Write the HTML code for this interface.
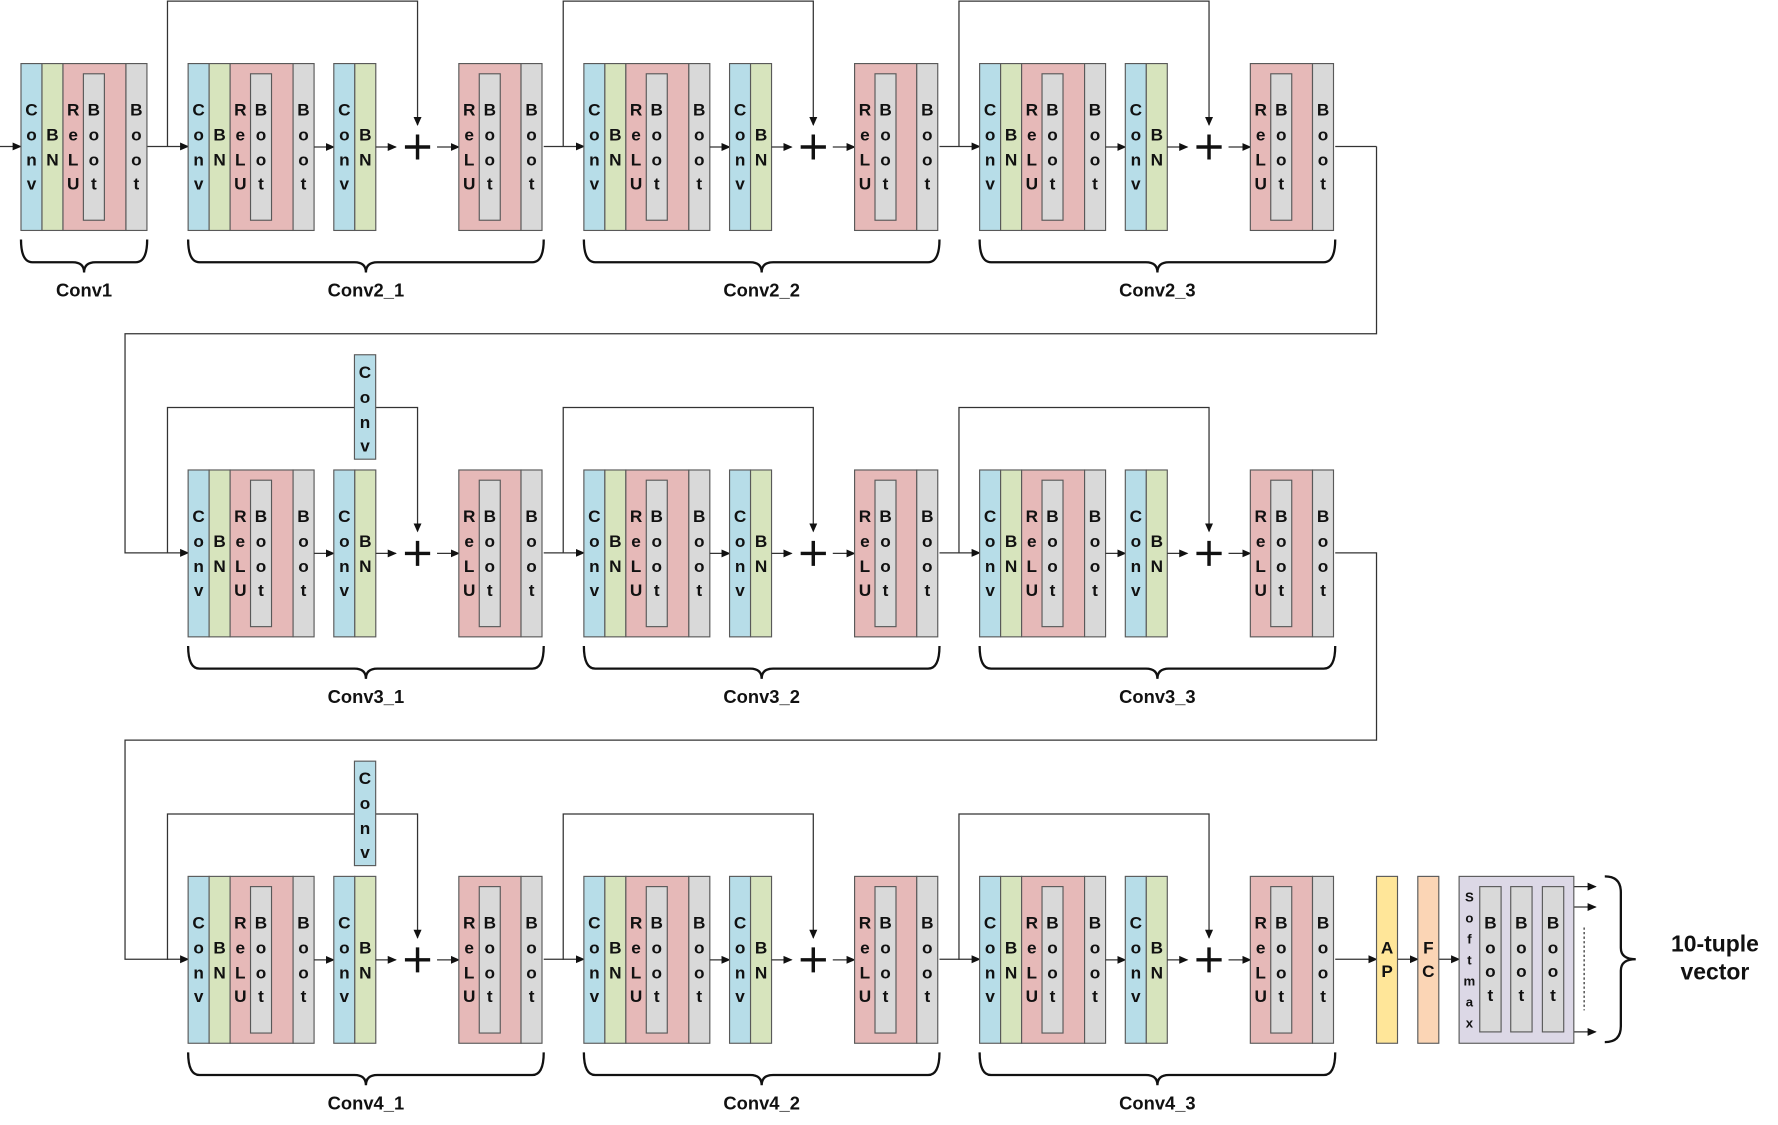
<!DOCTYPE html>
<html><head><meta charset="utf-8"><style>
html,body{margin:0;padding:0;background:#fff;}
svg{display:block;}
text{font-family:"Liberation Sans",sans-serif;font-weight:bold;fill:#111;}
.L{font-size:15px;text-anchor:middle;dominant-baseline:central;}
.T{font-size:16px;text-anchor:middle;dominant-baseline:central;}
.s{font-size:11.5px;text-anchor:middle;dominant-baseline:central;}
.b{stroke:#595959;stroke-width:1;}
.ln{stroke:#333;stroke-width:1.1;fill:none;}
.br{stroke:#111;stroke-width:2;fill:none;}
</style></head><body>
<svg width="1778" height="1125" viewBox="0 0 1550 991" preserveAspectRatio="none" xmlns="http://www.w3.org/2000/svg">
<defs>
<marker id="a" markerWidth="8" markerHeight="8" refX="7" refY="4" orient="auto" markerUnits="userSpaceOnUse"><path d="M0,0.5 L8,4 L0,7.5 Z" fill="#111"/></marker>
</defs>

<!-- ===== connectors ===== -->
<g class="ln">
<!-- row1 -->
<line x1="0" y1="129" x2="18" y2="129" marker-end="url(#a)"/>
<line x1="128" y1="129" x2="164" y2="129" marker-end="url(#a)"/>
<line x1="1164" y1="129" x2="1200" y2="129"/>
<polyline points="1200,129 1200,294 109,294 109,487 164,487" marker-end="url(#a)"/>
<polyline points="1164,487 1200,487 1200,652 109,652 109,845 164,845" marker-end="url(#a)"/>
<line x1="1164" y1="845" x2="1200" y2="845" marker-end="url(#a)"/>
<line x1="1218" y1="845" x2="1236" y2="845" marker-end="url(#a)"/>
<line x1="1254" y1="845" x2="1272" y2="845" marker-end="url(#a)"/>
<line x1="1372" y1="781" x2="1391" y2="781" marker-end="url(#a)"/>
<line x1="1372" y1="799" x2="1391" y2="799" marker-end="url(#a)"/>
<line x1="1372" y1="909" x2="1391" y2="909" marker-end="url(#a)"/>
<line x1="1381" y1="817" x2="1381" y2="890" stroke-dasharray="2,2"/>
<!-- between columns -->
<line x1="474" y1="129" x2="509" y2="129" marker-end="url(#a)"/>
<line x1="819" y1="129" x2="854" y2="129" marker-end="url(#a)"/>
<line x1="474" y1="487" x2="509" y2="487" marker-end="url(#a)"/>
<line x1="819" y1="487" x2="854" y2="487" marker-end="url(#a)"/>
<line x1="474" y1="845" x2="509" y2="845" marker-end="url(#a)"/>
<line x1="819" y1="845" x2="854" y2="845" marker-end="url(#a)"/>
</g>

<!-- final brace & text -->
<path class="br" d="M1399,772 Q1413,772 1413,786 L1413,835 Q1413,845 1426,845 Q1413,845 1413,855 L1413,904 Q1413,918 1399,918"/>
<text x="1495" y="831" style="font-size:20px;text-anchor:middle;dominant-baseline:central">10-tuple</text>
<text x="1495" y="856" style="font-size:20px;text-anchor:middle;dominant-baseline:central">vector</text>

<!-- Conv1 -->
<g transform="translate(18.3,56)">
<rect class="b" x="0" y="0" width="18.3" height="147" fill="#b7dde8"/>
<rect class="b" x="18.3" y="0" width="18.3" height="147" fill="#d7e4bd"/>
<rect class="b" x="36.6" y="0" width="54.9" height="147" fill="#e6b9b8"/>
<rect class="b" x="54.4" y="9" width="18.3" height="129" fill="#d9d9d9"/>
<rect class="b" x="91.5" y="0" width="18.3" height="147" fill="#d9d9d9"/>
<text class="L" x="9.15 9.15 9.15 9.15" y="41 63 85 106">Conv</text>
<text class="L" x="27.45 27.45" y="63 85">BN</text>
<text class="L" x="45.5 45.5 45.5 45.5" y="41 63 85 106">ReLU</text>
<text class="L" x="63.5 63.5 63.5 63.5" y="41 63 85 106">Boot</text>
<text class="L" x="100.6 100.6 100.6 100.6" y="41 63 85 106">Boot</text>
<path class="br" d="M0,155 Q0,175 10,175 L45,175 Q55,175 55,184 Q55,175 65,175 L100,175 Q110,175 110,155"/>
<text class="T" x="55" y="199.5">Conv1</text>
</g>

<!-- Residual blocks -->
<g id="blocks">
<!-- template repeated -->
<g transform="translate(164,56)">
<polyline class="ln" points="-18,73.5 -18,-55 200,-55 200,54" marker-end="url(#a)"/>
<rect class="b" x="0" y="0" width="18.3" height="147" fill="#b7dde8"/><rect class="b" x="18.3" y="0" width="18.3" height="147" fill="#d7e4bd"/><rect class="b" x="36.6" y="0" width="54.9" height="147" fill="#e6b9b8"/><rect class="b" x="54.4" y="9" width="18.3" height="129" fill="#d9d9d9"/><rect class="b" x="91.5" y="0" width="18.3" height="147" fill="#d9d9d9"/>
<line class="ln" x1="109.8" y1="73.5" x2="127" y2="73.5" marker-end="url(#a)"/>
<rect class="b" x="127" y="0" width="18.3" height="147" fill="#b7dde8"/><rect class="b" x="145.3" y="0" width="18.3" height="147" fill="#d7e4bd"/>
<line class="ln" x1="163.6" y1="73.5" x2="181" y2="73.5" marker-end="url(#a)"/>
<path d="M189,73.5 H211 M200,62.5 V84.5" stroke="#111" stroke-width="3"/>
<line class="ln" x1="217" y1="73.5" x2="236" y2="73.5" marker-end="url(#a)"/>
<rect class="b" x="236" y="0" width="54.2" height="147" fill="#e6b9b8"/><rect class="b" x="253.8" y="9" width="18.3" height="129" fill="#d9d9d9"/><rect class="b" x="290.2" y="0" width="18.3" height="147" fill="#d9d9d9"/>
<text class="L" x="9.15 9.15 9.15 9.15" y="41 63 85 106">Conv</text><text class="L" x="27.45 27.45" y="63 85">BN</text><text class="L" x="45.5 45.5 45.5 45.5" y="41 63 85 106">ReLU</text><text class="L" x="63.5 63.5 63.5 63.5" y="41 63 85 106">Boot</text><text class="L" x="100.6 100.6 100.6 100.6" y="41 63 85 106">Boot</text>
<text class="L" x="136.2 136.2 136.2 136.2" y="41 63 85 106">Conv</text><text class="L" x="154.5 154.5" y="63 85">BN</text>
<text class="L" x="245 245 245 245" y="41 63 85 106">ReLU</text><text class="L" x="263 263 263 263" y="41 63 85 106">Boot</text><text class="L" x="299.4 299.4 299.4 299.4" y="41 63 85 106">Boot</text>
<path class="br" d="M0,155 Q0,175 10,175 L145,175 Q155,175 155,184 Q155,175 165,175 L300,175 Q310,175 310,155"/>
<text class="T" x="155" y="199.5">Conv2_1</text>
</g>

<g transform="translate(509,56)">
<polyline class="ln" points="-18,73.5 -18,-55 200,-55 200,54" marker-end="url(#a)"/>
<rect class="b" x="0" y="0" width="18.3" height="147" fill="#b7dde8"/><rect class="b" x="18.3" y="0" width="18.3" height="147" fill="#d7e4bd"/><rect class="b" x="36.6" y="0" width="54.9" height="147" fill="#e6b9b8"/><rect class="b" x="54.4" y="9" width="18.3" height="129" fill="#d9d9d9"/><rect class="b" x="91.5" y="0" width="18.3" height="147" fill="#d9d9d9"/>
<line class="ln" x1="109.8" y1="73.5" x2="127" y2="73.5" marker-end="url(#a)"/>
<rect class="b" x="127" y="0" width="18.3" height="147" fill="#b7dde8"/><rect class="b" x="145.3" y="0" width="18.3" height="147" fill="#d7e4bd"/>
<line class="ln" x1="163.6" y1="73.5" x2="181" y2="73.5" marker-end="url(#a)"/>
<path d="M189,73.5 H211 M200,62.5 V84.5" stroke="#111" stroke-width="3"/>
<line class="ln" x1="217" y1="73.5" x2="236" y2="73.5" marker-end="url(#a)"/>
<rect class="b" x="236" y="0" width="54.2" height="147" fill="#e6b9b8"/><rect class="b" x="253.8" y="9" width="18.3" height="129" fill="#d9d9d9"/><rect class="b" x="290.2" y="0" width="18.3" height="147" fill="#d9d9d9"/>
<text class="L" x="9.15 9.15 9.15 9.15" y="41 63 85 106">Conv</text><text class="L" x="27.45 27.45" y="63 85">BN</text><text class="L" x="45.5 45.5 45.5 45.5" y="41 63 85 106">ReLU</text><text class="L" x="63.5 63.5 63.5 63.5" y="41 63 85 106">Boot</text><text class="L" x="100.6 100.6 100.6 100.6" y="41 63 85 106">Boot</text>
<text class="L" x="136.2 136.2 136.2 136.2" y="41 63 85 106">Conv</text><text class="L" x="154.5 154.5" y="63 85">BN</text>
<text class="L" x="245 245 245 245" y="41 63 85 106">ReLU</text><text class="L" x="263 263 263 263" y="41 63 85 106">Boot</text><text class="L" x="299.4 299.4 299.4 299.4" y="41 63 85 106">Boot</text>
<path class="br" d="M0,155 Q0,175 10,175 L145,175 Q155,175 155,184 Q155,175 165,175 L300,175 Q310,175 310,155"/>
<text class="T" x="155" y="199.5">Conv2_2</text>
</g>

<g transform="translate(854,56)">
<polyline class="ln" points="-18,73.5 -18,-55 200,-55 200,54" marker-end="url(#a)"/>
<rect class="b" x="0" y="0" width="18.3" height="147" fill="#b7dde8"/><rect class="b" x="18.3" y="0" width="18.3" height="147" fill="#d7e4bd"/><rect class="b" x="36.6" y="0" width="54.9" height="147" fill="#e6b9b8"/><rect class="b" x="54.4" y="9" width="18.3" height="129" fill="#d9d9d9"/><rect class="b" x="91.5" y="0" width="18.3" height="147" fill="#d9d9d9"/>
<line class="ln" x1="109.8" y1="73.5" x2="127" y2="73.5" marker-end="url(#a)"/>
<rect class="b" x="127" y="0" width="18.3" height="147" fill="#b7dde8"/><rect class="b" x="145.3" y="0" width="18.3" height="147" fill="#d7e4bd"/>
<line class="ln" x1="163.6" y1="73.5" x2="181" y2="73.5" marker-end="url(#a)"/>
<path d="M189,73.5 H211 M200,62.5 V84.5" stroke="#111" stroke-width="3"/>
<line class="ln" x1="217" y1="73.5" x2="236" y2="73.5" marker-end="url(#a)"/>
<rect class="b" x="236" y="0" width="54.2" height="147" fill="#e6b9b8"/><rect class="b" x="253.8" y="9" width="18.3" height="129" fill="#d9d9d9"/><rect class="b" x="290.2" y="0" width="18.3" height="147" fill="#d9d9d9"/>
<text class="L" x="9.15 9.15 9.15 9.15" y="41 63 85 106">Conv</text><text class="L" x="27.45 27.45" y="63 85">BN</text><text class="L" x="45.5 45.5 45.5 45.5" y="41 63 85 106">ReLU</text><text class="L" x="63.5 63.5 63.5 63.5" y="41 63 85 106">Boot</text><text class="L" x="100.6 100.6 100.6 100.6" y="41 63 85 106">Boot</text>
<text class="L" x="136.2 136.2 136.2 136.2" y="41 63 85 106">Conv</text><text class="L" x="154.5 154.5" y="63 85">BN</text>
<text class="L" x="245 245 245 245" y="41 63 85 106">ReLU</text><text class="L" x="263 263 263 263" y="41 63 85 106">Boot</text><text class="L" x="299.4 299.4 299.4 299.4" y="41 63 85 106">Boot</text>
<path class="br" d="M0,155 Q0,175 10,175 L145,175 Q155,175 155,184 Q155,175 165,175 L300,175 Q310,175 310,155"/>
<text class="T" x="155" y="199.5">Conv2_3</text>
</g>

<!-- Row 2 -->
<g transform="translate(164,414)">
<polyline class="ln" points="-18,73.5 -18,-55 200,-55 200,54" marker-end="url(#a)"/>
<rect class="b" x="145" y="-101.5" width="18.5" height="92" fill="#b7dde8"/>
<text class="L" x="154.2 154.2 154.2 154.2" y="-86 -64 -42 -21">Conv</text>
<rect class="b" x="0" y="0" width="18.3" height="147" fill="#b7dde8"/><rect class="b" x="18.3" y="0" width="18.3" height="147" fill="#d7e4bd"/><rect class="b" x="36.6" y="0" width="54.9" height="147" fill="#e6b9b8"/><rect class="b" x="54.4" y="9" width="18.3" height="129" fill="#d9d9d9"/><rect class="b" x="91.5" y="0" width="18.3" height="147" fill="#d9d9d9"/>
<line class="ln" x1="109.8" y1="73.5" x2="127" y2="73.5" marker-end="url(#a)"/>
<rect class="b" x="127" y="0" width="18.3" height="147" fill="#b7dde8"/><rect class="b" x="145.3" y="0" width="18.3" height="147" fill="#d7e4bd"/>
<line class="ln" x1="163.6" y1="73.5" x2="181" y2="73.5" marker-end="url(#a)"/>
<path d="M189,73.5 H211 M200,62.5 V84.5" stroke="#111" stroke-width="3"/>
<line class="ln" x1="217" y1="73.5" x2="236" y2="73.5" marker-end="url(#a)"/>
<rect class="b" x="236" y="0" width="54.2" height="147" fill="#e6b9b8"/><rect class="b" x="253.8" y="9" width="18.3" height="129" fill="#d9d9d9"/><rect class="b" x="290.2" y="0" width="18.3" height="147" fill="#d9d9d9"/>
<text class="L" x="9.15 9.15 9.15 9.15" y="41 63 85 106">Conv</text><text class="L" x="27.45 27.45" y="63 85">BN</text><text class="L" x="45.5 45.5 45.5 45.5" y="41 63 85 106">ReLU</text><text class="L" x="63.5 63.5 63.5 63.5" y="41 63 85 106">Boot</text><text class="L" x="100.6 100.6 100.6 100.6" y="41 63 85 106">Boot</text>
<text class="L" x="136.2 136.2 136.2 136.2" y="41 63 85 106">Conv</text><text class="L" x="154.5 154.5" y="63 85">BN</text>
<text class="L" x="245 245 245 245" y="41 63 85 106">ReLU</text><text class="L" x="263 263 263 263" y="41 63 85 106">Boot</text><text class="L" x="299.4 299.4 299.4 299.4" y="41 63 85 106">Boot</text>
<path class="br" d="M0,155 Q0,175 10,175 L145,175 Q155,175 155,184 Q155,175 165,175 L300,175 Q310,175 310,155"/>
<text class="T" x="155" y="199.5">Conv3_1</text>
</g>

<g transform="translate(509,414)">
<polyline class="ln" points="-18,73.5 -18,-55 200,-55 200,54" marker-end="url(#a)"/>
<rect class="b" x="0" y="0" width="18.3" height="147" fill="#b7dde8"/><rect class="b" x="18.3" y="0" width="18.3" height="147" fill="#d7e4bd"/><rect class="b" x="36.6" y="0" width="54.9" height="147" fill="#e6b9b8"/><rect class="b" x="54.4" y="9" width="18.3" height="129" fill="#d9d9d9"/><rect class="b" x="91.5" y="0" width="18.3" height="147" fill="#d9d9d9"/>
<line class="ln" x1="109.8" y1="73.5" x2="127" y2="73.5" marker-end="url(#a)"/>
<rect class="b" x="127" y="0" width="18.3" height="147" fill="#b7dde8"/><rect class="b" x="145.3" y="0" width="18.3" height="147" fill="#d7e4bd"/>
<line class="ln" x1="163.6" y1="73.5" x2="181" y2="73.5" marker-end="url(#a)"/>
<path d="M189,73.5 H211 M200,62.5 V84.5" stroke="#111" stroke-width="3"/>
<line class="ln" x1="217" y1="73.5" x2="236" y2="73.5" marker-end="url(#a)"/>
<rect class="b" x="236" y="0" width="54.2" height="147" fill="#e6b9b8"/><rect class="b" x="253.8" y="9" width="18.3" height="129" fill="#d9d9d9"/><rect class="b" x="290.2" y="0" width="18.3" height="147" fill="#d9d9d9"/>
<text class="L" x="9.15 9.15 9.15 9.15" y="41 63 85 106">Conv</text><text class="L" x="27.45 27.45" y="63 85">BN</text><text class="L" x="45.5 45.5 45.5 45.5" y="41 63 85 106">ReLU</text><text class="L" x="63.5 63.5 63.5 63.5" y="41 63 85 106">Boot</text><text class="L" x="100.6 100.6 100.6 100.6" y="41 63 85 106">Boot</text>
<text class="L" x="136.2 136.2 136.2 136.2" y="41 63 85 106">Conv</text><text class="L" x="154.5 154.5" y="63 85">BN</text>
<text class="L" x="245 245 245 245" y="41 63 85 106">ReLU</text><text class="L" x="263 263 263 263" y="41 63 85 106">Boot</text><text class="L" x="299.4 299.4 299.4 299.4" y="41 63 85 106">Boot</text>
<path class="br" d="M0,155 Q0,175 10,175 L145,175 Q155,175 155,184 Q155,175 165,175 L300,175 Q310,175 310,155"/>
<text class="T" x="155" y="199.5">Conv3_2</text>
</g>

<g transform="translate(854,414)">
<polyline class="ln" points="-18,73.5 -18,-55 200,-55 200,54" marker-end="url(#a)"/>
<rect class="b" x="0" y="0" width="18.3" height="147" fill="#b7dde8"/><rect class="b" x="18.3" y="0" width="18.3" height="147" fill="#d7e4bd"/><rect class="b" x="36.6" y="0" width="54.9" height="147" fill="#e6b9b8"/><rect class="b" x="54.4" y="9" width="18.3" height="129" fill="#d9d9d9"/><rect class="b" x="91.5" y="0" width="18.3" height="147" fill="#d9d9d9"/>
<line class="ln" x1="109.8" y1="73.5" x2="127" y2="73.5" marker-end="url(#a)"/>
<rect class="b" x="127" y="0" width="18.3" height="147" fill="#b7dde8"/><rect class="b" x="145.3" y="0" width="18.3" height="147" fill="#d7e4bd"/>
<line class="ln" x1="163.6" y1="73.5" x2="181" y2="73.5" marker-end="url(#a)"/>
<path d="M189,73.5 H211 M200,62.5 V84.5" stroke="#111" stroke-width="3"/>
<line class="ln" x1="217" y1="73.5" x2="236" y2="73.5" marker-end="url(#a)"/>
<rect class="b" x="236" y="0" width="54.2" height="147" fill="#e6b9b8"/><rect class="b" x="253.8" y="9" width="18.3" height="129" fill="#d9d9d9"/><rect class="b" x="290.2" y="0" width="18.3" height="147" fill="#d9d9d9"/>
<text class="L" x="9.15 9.15 9.15 9.15" y="41 63 85 106">Conv</text><text class="L" x="27.45 27.45" y="63 85">BN</text><text class="L" x="45.5 45.5 45.5 45.5" y="41 63 85 106">ReLU</text><text class="L" x="63.5 63.5 63.5 63.5" y="41 63 85 106">Boot</text><text class="L" x="100.6 100.6 100.6 100.6" y="41 63 85 106">Boot</text>
<text class="L" x="136.2 136.2 136.2 136.2" y="41 63 85 106">Conv</text><text class="L" x="154.5 154.5" y="63 85">BN</text>
<text class="L" x="245 245 245 245" y="41 63 85 106">ReLU</text><text class="L" x="263 263 263 263" y="41 63 85 106">Boot</text><text class="L" x="299.4 299.4 299.4 299.4" y="41 63 85 106">Boot</text>
<path class="br" d="M0,155 Q0,175 10,175 L145,175 Q155,175 155,184 Q155,175 165,175 L300,175 Q310,175 310,155"/>
<text class="T" x="155" y="199.5">Conv3_3</text>
</g>

<!-- Row 3 -->
<g transform="translate(164,772)">
<polyline class="ln" points="-18,73.5 -18,-55 200,-55 200,54" marker-end="url(#a)"/>
<rect class="b" x="145" y="-101.5" width="18.5" height="92" fill="#b7dde8"/>
<text class="L" x="154.2 154.2 154.2 154.2" y="-86 -64 -42 -21">Conv</text>
<rect class="b" x="0" y="0" width="18.3" height="147" fill="#b7dde8"/><rect class="b" x="18.3" y="0" width="18.3" height="147" fill="#d7e4bd"/><rect class="b" x="36.6" y="0" width="54.9" height="147" fill="#e6b9b8"/><rect class="b" x="54.4" y="9" width="18.3" height="129" fill="#d9d9d9"/><rect class="b" x="91.5" y="0" width="18.3" height="147" fill="#d9d9d9"/>
<line class="ln" x1="109.8" y1="73.5" x2="127" y2="73.5" marker-end="url(#a)"/>
<rect class="b" x="127" y="0" width="18.3" height="147" fill="#b7dde8"/><rect class="b" x="145.3" y="0" width="18.3" height="147" fill="#d7e4bd"/>
<line class="ln" x1="163.6" y1="73.5" x2="181" y2="73.5" marker-end="url(#a)"/>
<path d="M189,73.5 H211 M200,62.5 V84.5" stroke="#111" stroke-width="3"/>
<line class="ln" x1="217" y1="73.5" x2="236" y2="73.5" marker-end="url(#a)"/>
<rect class="b" x="236" y="0" width="54.2" height="147" fill="#e6b9b8"/><rect class="b" x="253.8" y="9" width="18.3" height="129" fill="#d9d9d9"/><rect class="b" x="290.2" y="0" width="18.3" height="147" fill="#d9d9d9"/>
<text class="L" x="9.15 9.15 9.15 9.15" y="41 63 85 106">Conv</text><text class="L" x="27.45 27.45" y="63 85">BN</text><text class="L" x="45.5 45.5 45.5 45.5" y="41 63 85 106">ReLU</text><text class="L" x="63.5 63.5 63.5 63.5" y="41 63 85 106">Boot</text><text class="L" x="100.6 100.6 100.6 100.6" y="41 63 85 106">Boot</text>
<text class="L" x="136.2 136.2 136.2 136.2" y="41 63 85 106">Conv</text><text class="L" x="154.5 154.5" y="63 85">BN</text>
<text class="L" x="245 245 245 245" y="41 63 85 106">ReLU</text><text class="L" x="263 263 263 263" y="41 63 85 106">Boot</text><text class="L" x="299.4 299.4 299.4 299.4" y="41 63 85 106">Boot</text>
<path class="br" d="M0,155 Q0,175 10,175 L145,175 Q155,175 155,184 Q155,175 165,175 L300,175 Q310,175 310,155"/>
<text class="T" x="155" y="199.5">Conv4_1</text>
</g>

<g transform="translate(509,772)">
<polyline class="ln" points="-18,73.5 -18,-55 200,-55 200,54" marker-end="url(#a)"/>
<rect class="b" x="0" y="0" width="18.3" height="147" fill="#b7dde8"/><rect class="b" x="18.3" y="0" width="18.3" height="147" fill="#d7e4bd"/><rect class="b" x="36.6" y="0" width="54.9" height="147" fill="#e6b9b8"/><rect class="b" x="54.4" y="9" width="18.3" height="129" fill="#d9d9d9"/><rect class="b" x="91.5" y="0" width="18.3" height="147" fill="#d9d9d9"/>
<line class="ln" x1="109.8" y1="73.5" x2="127" y2="73.5" marker-end="url(#a)"/>
<rect class="b" x="127" y="0" width="18.3" height="147" fill="#b7dde8"/><rect class="b" x="145.3" y="0" width="18.3" height="147" fill="#d7e4bd"/>
<line class="ln" x1="163.6" y1="73.5" x2="181" y2="73.5" marker-end="url(#a)"/>
<path d="M189,73.5 H211 M200,62.5 V84.5" stroke="#111" stroke-width="3"/>
<line class="ln" x1="217" y1="73.5" x2="236" y2="73.5" marker-end="url(#a)"/>
<rect class="b" x="236" y="0" width="54.2" height="147" fill="#e6b9b8"/><rect class="b" x="253.8" y="9" width="18.3" height="129" fill="#d9d9d9"/><rect class="b" x="290.2" y="0" width="18.3" height="147" fill="#d9d9d9"/>
<text class="L" x="9.15 9.15 9.15 9.15" y="41 63 85 106">Conv</text><text class="L" x="27.45 27.45" y="63 85">BN</text><text class="L" x="45.5 45.5 45.5 45.5" y="41 63 85 106">ReLU</text><text class="L" x="63.5 63.5 63.5 63.5" y="41 63 85 106">Boot</text><text class="L" x="100.6 100.6 100.6 100.6" y="41 63 85 106">Boot</text>
<text class="L" x="136.2 136.2 136.2 136.2" y="41 63 85 106">Conv</text><text class="L" x="154.5 154.5" y="63 85">BN</text>
<text class="L" x="245 245 245 245" y="41 63 85 106">ReLU</text><text class="L" x="263 263 263 263" y="41 63 85 106">Boot</text><text class="L" x="299.4 299.4 299.4 299.4" y="41 63 85 106">Boot</text>
<path class="br" d="M0,155 Q0,175 10,175 L145,175 Q155,175 155,184 Q155,175 165,175 L300,175 Q310,175 310,155"/>
<text class="T" x="155" y="199.5">Conv4_2</text>
</g>

<g transform="translate(854,772)">
<polyline class="ln" points="-18,73.5 -18,-55 200,-55 200,54" marker-end="url(#a)"/>
<rect class="b" x="0" y="0" width="18.3" height="147" fill="#b7dde8"/><rect class="b" x="18.3" y="0" width="18.3" height="147" fill="#d7e4bd"/><rect class="b" x="36.6" y="0" width="54.9" height="147" fill="#e6b9b8"/><rect class="b" x="54.4" y="9" width="18.3" height="129" fill="#d9d9d9"/><rect class="b" x="91.5" y="0" width="18.3" height="147" fill="#d9d9d9"/>
<line class="ln" x1="109.8" y1="73.5" x2="127" y2="73.5" marker-end="url(#a)"/>
<rect class="b" x="127" y="0" width="18.3" height="147" fill="#b7dde8"/><rect class="b" x="145.3" y="0" width="18.3" height="147" fill="#d7e4bd"/>
<line class="ln" x1="163.6" y1="73.5" x2="181" y2="73.5" marker-end="url(#a)"/>
<path d="M189,73.5 H211 M200,62.5 V84.5" stroke="#111" stroke-width="3"/>
<line class="ln" x1="217" y1="73.5" x2="236" y2="73.5" marker-end="url(#a)"/>
<rect class="b" x="236" y="0" width="54.2" height="147" fill="#e6b9b8"/><rect class="b" x="253.8" y="9" width="18.3" height="129" fill="#d9d9d9"/><rect class="b" x="290.2" y="0" width="18.3" height="147" fill="#d9d9d9"/>
<text class="L" x="9.15 9.15 9.15 9.15" y="41 63 85 106">Conv</text><text class="L" x="27.45 27.45" y="63 85">BN</text><text class="L" x="45.5 45.5 45.5 45.5" y="41 63 85 106">ReLU</text><text class="L" x="63.5 63.5 63.5 63.5" y="41 63 85 106">Boot</text><text class="L" x="100.6 100.6 100.6 100.6" y="41 63 85 106">Boot</text>
<text class="L" x="136.2 136.2 136.2 136.2" y="41 63 85 106">Conv</text><text class="L" x="154.5 154.5" y="63 85">BN</text>
<text class="L" x="245 245 245 245" y="41 63 85 106">ReLU</text><text class="L" x="263 263 263 263" y="41 63 85 106">Boot</text><text class="L" x="299.4 299.4 299.4 299.4" y="41 63 85 106">Boot</text>
<path class="br" d="M0,155 Q0,175 10,175 L145,175 Q155,175 155,184 Q155,175 165,175 L300,175 Q310,175 310,155"/>
<text class="T" x="155" y="199.5">Conv4_3</text>
</g>
</g>

<!-- AP / FC / Softmax -->
<rect class="b" x="1200" y="772" width="18.3" height="147" fill="#ffe699"/>
<text class="L" x="1209.2 1209.2" y="835 856">AP</text>
<rect class="b" x="1236" y="772" width="18.3" height="147" fill="#fbd5b5"/>
<text class="L" x="1245.2 1245.2" y="835 856">FC</text>
<rect class="b" x="1272" y="772" width="100" height="147" fill="#dcd8e6"/>
<rect class="b" x="1290" y="781" width="18.6" height="128" fill="#d9d9d9"/>
<rect class="b" x="1317" y="781" width="18.6" height="128" fill="#d9d9d9"/>
<rect class="b" x="1344.6" y="781" width="18.6" height="128" fill="#d9d9d9"/>
<text class="s" x="1281 1281 1281 1281 1281 1281 1281" y="790 808.5 827 845.5 864 882.5 901">Softmax</text>
<text class="L" x="1299.3 1299.3 1299.3 1299.3" y="813 835 856 877">Boot</text>
<text class="L" x="1326.3 1326.3 1326.3 1326.3" y="813 835 856 877">Boot</text>
<text class="L" x="1353.9 1353.9 1353.9 1353.9" y="813 835 856 877">Boot</text>
</svg>
</body></html>
